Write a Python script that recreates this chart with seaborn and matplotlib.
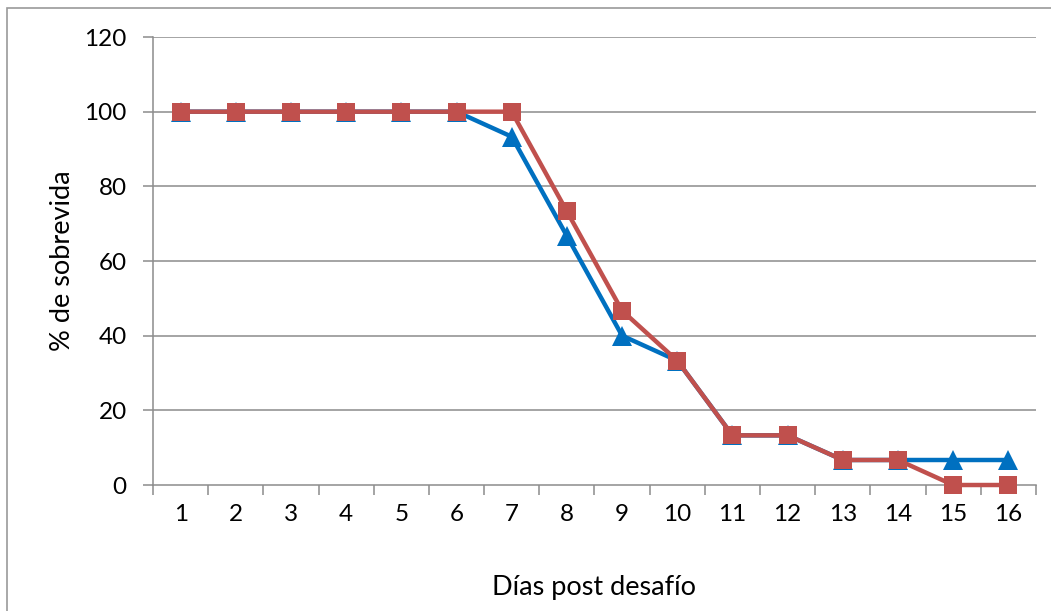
import matplotlib
matplotlib.use("Agg")
import matplotlib.pyplot as plt
import seaborn as sns
import pandas as pd
import numpy as np

dias = list(range(1, 17))
serie_a = [100, 100, 100, 100, 100, 100, 93.3, 66.7, 40, 33.3, 13.3, 13.3, 6.7, 6.7, 6.7, 6.7]
serie_b = [100, 100, 100, 100, 100, 100, 100, 73.3, 46.7, 33.3, 13.3, 13.3, 6.7, 6.7, 0, 0]
y_ticks = [0, 20, 40, 60, 80, 100, 120]

sns.set_theme(style="white")
plt.rcParams["font.family"] = ["Lato", "DejaVu Sans"]
plt.rcParams["text.color"] = "black"
plt.rcParams["axes.labelcolor"] = "black"
plt.rcParams["xtick.labelcolor"] = "black"
plt.rcParams["ytick.labelcolor"] = "black"

df = pd.DataFrame({"dia": dias, "a": serie_a, "b": serie_b})

fig = plt.figure(figsize=(10.51, 6.11), dpi=100)
ax = fig.add_axes([0.1456, 0.2062, 0.8401, 0.7332])

grid_c = "#8c8c8c"
for v in y_ticks[1:]:
    ax.axhline(v, color=grid_c, lw=1.1, zorder=0)

sns.lineplot(data=df, x="dia", y="a", ax=ax, color="#0070C0", lw=3.2,
             marker="^", markersize=14, markeredgewidth=0, zorder=3, clip_on=False)
sns.lineplot(data=df, x="dia", y="b", ax=ax, color="#C0504D", lw=3.2,
             marker="s", markersize=13, markeredgewidth=0, zorder=4, clip_on=False)

ax.set_xlim(0.5, 16.5)
ax.set_ylim(0, 120)
ax.set_yticks(y_ticks)
ax.set_yticklabels([str(v) for v in y_ticks], fontsize=17.5)

# category boundaries carry tick marks, labels sit at the centres
ax.set_xticks(np.arange(0.5, 17.0, 1.0))
ax.set_xticklabels([])
ax.set_xticks(dias, minor=True)
ax.set_xticklabels([str(d) for d in dias], minor=True, fontsize=17.5)
ax.tick_params(axis="x", which="major", direction="out", length=7, width=1.1,
               color=grid_c, bottom=True)
ax.tick_params(axis="x", which="minor", length=0, pad=14)
ax.tick_params(axis="y", direction="out", length=7, width=1.1, color=grid_c,
               left=True, pad=12)

for s in ["top", "right"]:
    ax.spines[s].set_visible(False)
for s in ["left", "bottom"]:
    ax.spines[s].set_color(grid_c)
    ax.spines[s].set_linewidth(1.1)

ax.set_xlabel("Días post desafío", fontsize=19.5, labelpad=36)
ax.set_ylabel("% de sobrevida", fontsize=19.5, labelpad=7)

# chart-area frame: only its top and left edges fall inside the image
border = plt.Rectangle((0.0067, -0.2), 1.2, 1.1877, transform=fig.transFigure,
                       fill=False, edgecolor="#9a9a9a", lw=1.2)
fig.patches.append(border)

fig.savefig("out.png", dpi=100)
